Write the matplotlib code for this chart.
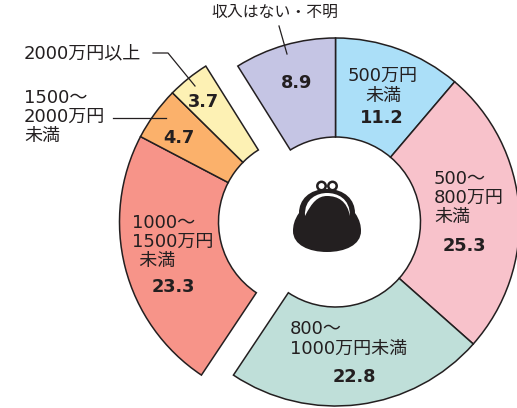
import matplotlib
matplotlib.use('Agg')
from matplotlib import pyplot as plt
from matplotlib.patches import PathPatch, Circle
from matplotlib.path import Path

plt.rcParams['font.family'] = ['DejaVu Sans', 'Noto Sans CJK JP']

# clockwise from 12 o'clock
groups = ['500万円\n未満', '500〜\n800万円\n未満', '800〜\n1000万円未満', '1000〜\n1500万円\n\u2009\u2009未満',
          '1500〜\n2000万円\n未満', '2000万円以上', '収入はない・不明']
shares = [11.2, 25.3, 22.8, 23.3, 4.7, 3.7, 8.9]
colors = ['#abdff8', '#f8c2cb', '#bfdfd9', '#f79489', '#fbb16b', '#fdf1b4', '#c5c5e4']
ink = '#231f20'

W, H = 517, 408
cx, cy = 335.5, H - 222
radius = 184
inner = 85
shift = 32  # the three top incomes are pulled to the left


def Y(py):
    return H - py


def flip(points):
    return [(x, Y(y)) for x, y in points]


fig = plt.figure(figsize=(W / 100, H / 100), dpi=100)
ax = fig.add_axes([0, 0, 1, 1])

wedges, _ = ax.pie(shares, colors=colors, startangle=90, counterclock=False, radius=radius, center=(cx, cy),
                   wedgeprops=dict(width=radius - inner, edgecolor=ink, linewidth=1.1))
for w in wedges[3:6]:
    w.set_center((cx - shift, cy))

ax.set_xlim(0, W)
ax.set_ylim(0, H)
ax.set_aspect('equal')
ax.axis('off')

# labels inside the ring
label_size = 13
value_size = 12.8


def label(x, py, s, size=label_size, **kw):
    ax.text(x, Y(py), s, fontsize=size, color=ink, va='center', linespacing=1.1, **kw)


def value(x, py, v):
    ax.text(x, Y(py), f'{v}', fontsize=value_size, color=ink, fontweight='bold', ha='center', va='center')


label(383, 86, groups[0], ha='center', multialignment='center')
value(382, 118, shares[0])
label(434, 198, groups[1], ha='left')
value(464, 246, shares[1])
label(290, 339, groups[2], ha='left')
value(354, 377, shares[2])
label(132, 242, groups[3], ha='left')
value(173, 287, shares[3])
value(179, 138, shares[4])
value(203, 102, shares[5])
value(297, 83, shares[6])

# labels outside the ring
label(24, 117, groups[4], ha='left')
label(24, 53, groups[5], ha='left')
label(275, 12, groups[6], size=11.4, ha='center')

# leader lines
ax.plot([113, 166], [Y(118), Y(118)], color=ink, lw=0.9)
ax.plot([153, 168, 195], [Y(53), Y(53), Y(86)], color=ink, lw=0.9)
ax.plot([279, 287], [Y(26), Y(54)], color=ink, lw=0.9)

# purse
for px in (321.5, 332.5):
    ax.add_patch(Circle((px, Y(186)), 4.2, fc='white', ec=ink, lw=1.8))
body = flip([(327, 189), (345, 189), (355, 200), (355, 213), (360, 220), (361, 226), (361, 231),
             (361, 245), (345, 252), (327, 252), (309, 252), (293, 245), (293, 231),
             (293, 226), (294, 220), (299, 213), (299, 200), (309, 189), (327, 189)])
ax.add_patch(PathPatch(Path(body, [Path.MOVETO] + [Path.CURVE4] * 18), fc=ink, ec='none'))
crescent = flip([(305, 216), (304, 198), (318, 193), (327, 193), (337, 193), (350, 198), (350, 216),
                 (347, 201), (338, 196), (327, 196), (318, 196), (312, 202), (305, 216)])
ax.add_patch(PathPatch(Path(crescent, [Path.MOVETO] + [Path.CURVE4] * 12), fc='white', ec='none'))

fig.savefig('out.png', dpi=100)
